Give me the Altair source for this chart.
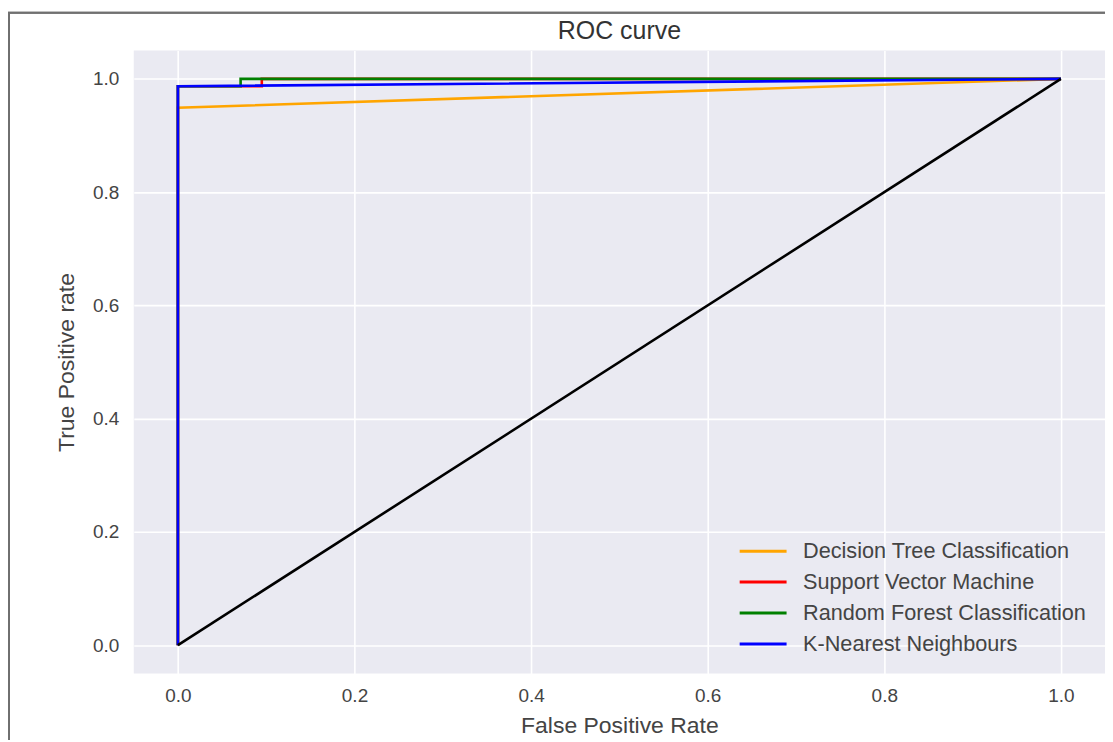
import altair as alt
import pandas as pd

series_names = ["Decision Tree Classification", "Support Vector Machine",
                "Random Forest Classification", "K-Nearest Neighbours"]
series_colors = ["orange", "red", "green", "blue"]

dt_fpr = [0.0, 0.0, 1.0]
dt_tpr = [0.0, 0.949, 1.0]
svm_fpr = [0.0, 0.0, 0.095, 0.095, 1.0]
svm_tpr = [0.0, 0.987, 0.987, 1.0, 1.0]
rf_fpr = [0.0, 0.0, 0.071, 0.071, 1.0]
rf_tpr = [0.0, 0.987, 0.987, 1.0, 1.0]
knn_fpr = [0.0, 0.0, 1.0]
knn_tpr = [0.0, 0.987, 1.0]
diag_fpr = [0.0, 1.0]
diag_tpr = [0.0, 1.0]

tick_vals = [0.0, 0.2, 0.4, 0.6, 0.8, 1.0]
title_text = ["ROC curve"]

rows = []
for name, fx, ty in zip(series_names,
                        [dt_fpr, svm_fpr, rf_fpr, knn_fpr],
                        [dt_tpr, svm_tpr, rf_tpr, knn_tpr]):
    for i, (a, b) in enumerate(zip(fx, ty)):
        rows.append({"model": name, "fpr": a, "tpr": b, "ord": i})
df = pd.DataFrame(rows)
diag = pd.DataFrame({"fpr": diag_fpr, "tpr": diag_tpr, "ord": [0, 1]})
title_df = pd.DataFrame({"t": title_text})

FONT = "Liberation Sans"
TXT = "#444444"

xscale = alt.Scale(domain=[-0.05, 1.05], nice=False, zero=False)
yscale = alt.Scale(domain=[-0.05, 1.05], nice=False, zero=False)

xaxis = alt.Axis(title="False Positive Rate", values=tick_vals, format=".1f",
                 grid=True, gridColor="white", gridWidth=1.6, domain=False,
                 ticks=False, labelPadding=13, labelFontSize=19, labelColor=TXT,
                 labelFont=FONT, titleFont=FONT, titleFontSize=23, titleColor=TXT,
                 titleFontWeight="normal", titlePadding=9)
yaxis = alt.Axis(title="True Positive rate", values=tick_vals, format=".1f",
                 grid=True, gridColor="white", gridWidth=1.6, domain=False,
                 ticks=False, labelPadding=15, labelFontSize=19, labelColor=TXT,
                 labelFont=FONT, titleFont=FONT, titleFontSize=23, titleColor=TXT,
                 titleFontWeight="normal", titlePadding=14)

lines = alt.Chart(df).mark_line(strokeWidth=2.6, interpolate="linear").encode(
    x=alt.X("fpr:Q", scale=xscale, axis=xaxis),
    y=alt.Y("tpr:Q", scale=yscale, axis=yaxis),
    color=alt.Color("model:N",
                    scale=alt.Scale(domain=series_names, range=series_colors),
                    sort=series_names,
                    legend=alt.Legend(title=None, orient="none", legendX=617, legendY=488,
                                      symbolType="M-2,0H2", symbolSize=552,
                                      symbolStrokeWidth=3, labelFont=FONT,
                                      labelFontSize=21.7, labelColor=TXT, labelLimit=0,
                                      rowPadding=5, labelOffset=26.5, padding=0)),
    order="ord:Q",
    detail="model:N",
)

diag_line = alt.Chart(diag).mark_line(strokeWidth=2.6, color="black").encode(
    x=alt.X("fpr:Q", scale=xscale),
    y=alt.Y("tpr:Q", scale=yscale),
    order="ord:Q",
)

title_mark = alt.Chart(title_df).mark_text(font=FONT, fontSize=25, color="#333333",
                                           align="center", baseline="middle").encode(
    text="t:N", x=alt.value(486.5), y=alt.value(-20))

frame_v = alt.Chart(diag).mark_rule(color="#707070", strokeWidth=2).encode(
    x=alt.value(-125), y=alt.value(-38), y2=alt.value(720))
frame_h = alt.Chart(diag).mark_rule(color="#707070", strokeWidth=2).encode(
    x=alt.value(-126), x2=alt.value(1000), y=alt.value(-38))

chart = alt.layer(lines, diag_line, title_mark, frame_v, frame_h).properties(
    width=973, height=624,
    background="white",
    autosize=alt.AutoSizeParams(type="none"),
    padding={"left": 126, "top": 42, "right": 0, "bottom": 66},
).configure_view(fill="#EAEAF2", strokeWidth=0)

chart.save("out.html", embed_options={"renderer": "svg", "actions": False})
